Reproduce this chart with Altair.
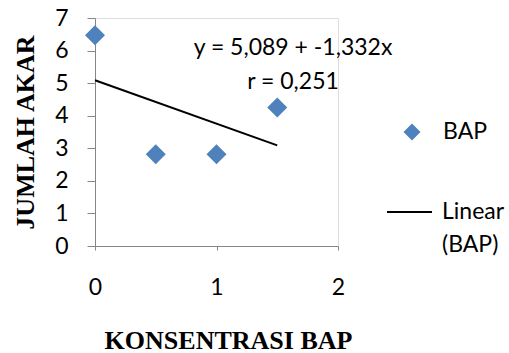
import altair as alt
import pandas as pd

konsentrasi = [0, 0.5, 1, 1.5]
jumlah_akar = [6.47, 2.82, 2.82, 4.25]
x_ticks = [0, 1, 2]
y_ticks = [0, 1, 2, 3, 4, 5, 6, 7]
eq_lines = ["y = 5,089 + -1,332x", "r = 0,251"]
eq_x = [1.63, 1.63]
eq_y = [6.07, 5.03]

df = pd.DataFrame({"x": konsentrasi, "y": jumlah_akar})
eq = pd.DataFrame({"t": eq_lines, "x": eq_x, "y": eq_y})

FONT = "Lato"
BLUE = "#4F81BD"
GRAY = "#868686"

xs = alt.Scale(domain=[0, 2], nice=False)
ys = alt.Scale(domain=[0, 7], nice=False)

x_axis = alt.Axis(
    values=x_ticks, format=".0f", tickSize=4, labelPadding=26, labelFontSize=23, labelFont=FONT,
    labelFlush=False,
    labelColor="black", domainColor=GRAY, tickColor=GRAY, grid=False,
    title="KONSENTRASI BAP", titleFont="Liberation Serif", titleFontSize=26,
    titleFontWeight="bold", titleColor="black", titleX=133, titleY=102,
    titleBaseline="alphabetic", titleAlign="center")
y_axis = alt.Axis(
    values=y_ticks, format=".0f", tickSize=8, labelPadding=19, labelFontSize=23,
    labelFlush=False,
    labelFont=FONT, labelColor="black", domainColor=GRAY, tickColor=GRAY, grid=False,
    title="JUMLAH AKAR", titleFont="Liberation Serif", titleFontSize=26,
    titleFontWeight="bold", titleColor="black", titleAngle=-90, titleX=-62, titleY=114,
    titleBaseline="alphabetic", titleAlign="center")

X = alt.X("x:Q", scale=xs, axis=x_axis)
Y = alt.Y("y:Q", scale=ys, axis=y_axis)

base = alt.Chart(df)

points = base.mark_point(shape="diamond", filled=True, size=400, color=BLUE, opacity=1).encode(x=X, y=Y)

trend = base.transform_regression("x", "y", method="linear", extent=[0, 1.5]).mark_line(
    color="black", strokeWidth=2
).encode(x=X, y=Y)

eq_text = alt.Chart(eq).mark_text(font=FONT, fontSize=23, color="black", align="center", baseline="middle").encode(
    x=X, y=Y, text="t:N"
)

# manual legend (pixel positions relative to plot area)
one = pd.DataFrame({"a": [0]})
leg_pt = alt.Chart(one).mark_point(shape="diamond", filled=True, size=290, color=BLUE, opacity=1).encode(
    x=alt.value(317), y=alt.value(114))
leg_bap = alt.Chart(one).mark_text(font=FONT, fontSize=23, align="left", baseline="middle", color="black").encode(
    x=alt.value(348), y=alt.value(114), text=alt.value("BAP"))
leg_line = alt.Chart(one).mark_rule(color="black", strokeWidth=2).encode(
    x=alt.value(292), x2=alt.value(337), y=alt.value(194))
leg_lin = alt.Chart(one).mark_text(font=FONT, fontSize=23, align="left", baseline="middle", color="black").encode(
    x=alt.value(347), y=alt.value(194), text=alt.value("Linear"))
leg_lin2 = alt.Chart(one).mark_text(font=FONT, fontSize=23, align="left", baseline="middle", color="black").encode(
    x=alt.value(347), y=alt.value(227), text=alt.value("(BAP)"))

chart = alt.layer(points, trend, eq_text, leg_pt, leg_bap, leg_line, leg_lin, leg_lin2).properties(
    width=243, height=228,
    autosize=alt.AutoSizeParams(type="none"),
    padding={"left": 95, "top": 18, "right": 171, "bottom": 107},
).configure_view(stroke=None).configure_axis(labelOverlap=False).configure(background="white")

chart.save("out.html", embed_options={"renderer": "svg", "actions": False})
